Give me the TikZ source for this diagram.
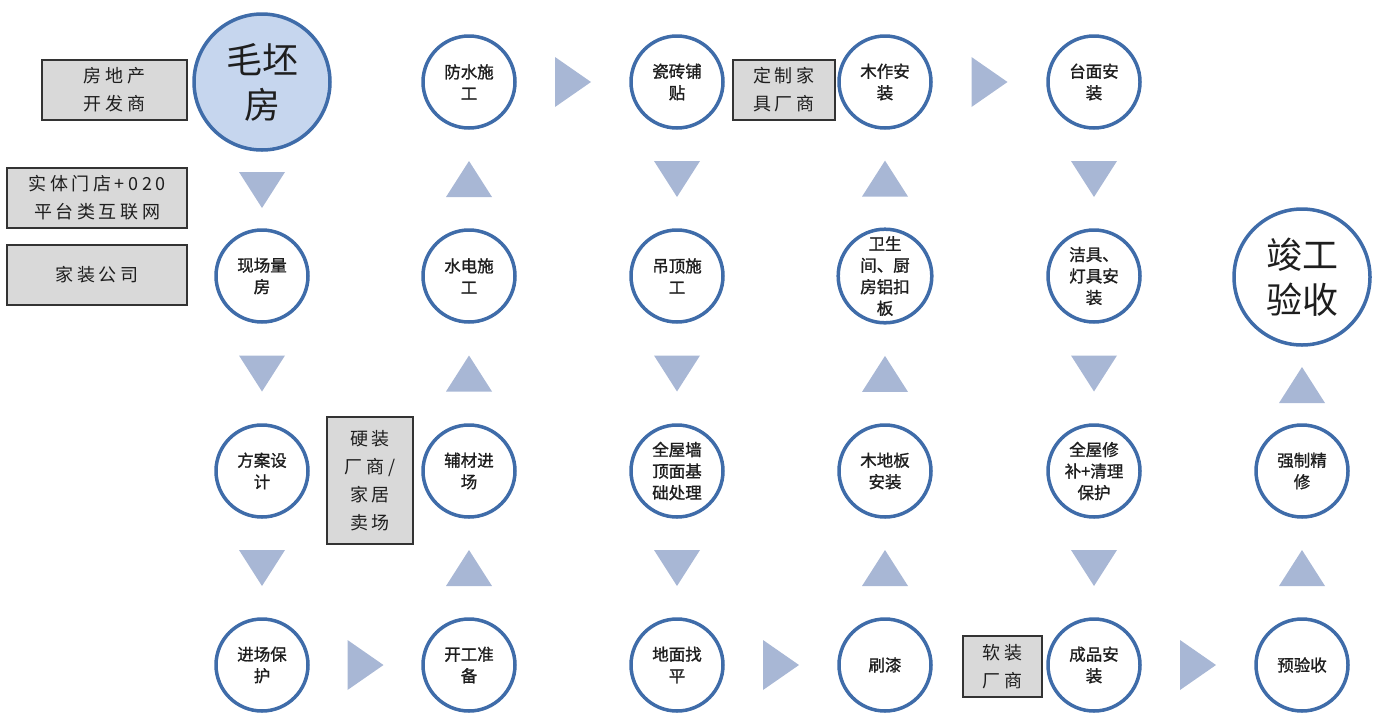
\documentclass[tikz,border=0pt]{standalone}
\usepackage{fontspec}
\setmainfont{Noto Sans CJK SC}
\newfontfamily\boxfont[LetterSpace=20]{Noto Sans CJK SC}
\newfontfamily\circfont[FakeBold=1.2]{Noto Sans CJK SC}
\usetikzlibrary{calc}
\definecolor{ringblue}{HTML}{3F6CA9}
\definecolor{bigfill}{HTML}{C6D6EE}
\definecolor{tricol}{HTML}{A8B7D5}
\definecolor{boxgray}{HTML}{D9D9D9}
\definecolor{txt}{HTML}{1E1E1E}
\tikzset{
  stepc/.style={circle, draw=ringblue, line width=3.5pt, fill=white, minimum size=92pt,
    inner sep=0pt, align=center, text=txt, font=\circfont\fontsize{16.5}{21.5}\selectfont},
  bigc/.style={stepc, minimum size=136pt, font=\fontsize{36}{45}\selectfont},
  grbox/.style={draw=black!80, line width=1.2pt, fill=boxgray, align=center, inner sep=0pt,
    text=txt, font=\boxfont\fontsize{18}{28}\selectfont},
  downtri/.pic={\fill[tricol] (-23,-18) -- (23,-18) -- (0,18) -- cycle;},
  uptri/.pic={\fill[tricol] (-23,18) -- (23,18) -- (0,-18) -- cycle;},
  righttri/.pic={\fill[tricol] (-18,-25) -- (-18,25) -- (18,0) -- cycle;}
}
\begin{document}
\begin{tikzpicture}[x=1pt,y=-1pt]
\useasboundingbox (0,0) rectangle (1381,713);
% column 1
\node[bigc, fill=bigfill] (c11) at (262,82) {毛坯\\房};
\node[stepc] (c12) at (262,276) {现场量\\房};
\node[stepc] (c13) at (262,471) {方案设\\计};
\node[stepc] (c14) at (262,665) {进场保\\护};
% column 2
\node[stepc] (c21) at (469,82) {防水施\\工};
\node[stepc] (c22) at (469,276) {水电施\\工};
\node[stepc] (c23) at (469,471) {辅材进\\场};
\node[stepc] (c24) at (469,665) {开工准\\备};
% column 3
\node[stepc] (c31) at (677,82) {瓷砖铺\\贴};
\node[stepc] (c32) at (677,276) {吊顶施\\工};
\node[stepc] (c33) at (677,471) {全屋墙\\顶面基\\础处理};
\node[stepc] (c34) at (677,665) {地面找\\平};
% column 4
\node[stepc] (c41) at (885,82) {木作安\\装};
\node[stepc] (c42) at (885,276) {卫生\\间、厨\\房铝扣\\板};
\node[stepc] (c43) at (885,471) {木地板\\安装};
\node[stepc] (c44) at (885,665) {刷漆};
% column 5
\node[stepc] (c51) at (1094,82) {台面安\\装};
\node[stepc] (c52) at (1094,276) {洁具、\\灯具安\\装};
\node[stepc] (c53) at (1094,471) {全屋修\\补+清理\\保护};
\node[stepc] (c54) at (1094,665) {成品安\\装};
% column 6
\node[bigc] (c62) at (1302,277) {竣工\\验收};
\node[stepc] (c63) at (1302,471) {强制精\\修};
\node[stepc] (c64) at (1302,665) {预验收};
% gray boxes
\node[grbox, minimum width=145pt, minimum height=60pt] (dev) at (114.5,90) {房地产\\开发商};
\node[grbox, minimum width=180pt, minimum height=60pt] (o2o) at (97,198) {实体门店+020\\平台类互联网};
\node[grbox, minimum width=180pt, minimum height=60pt] (jz) at (97,275) {家装公司};
\node[grbox, minimum width=86pt, minimum height=127pt] (yz) at (370,480.5) {硬装\\厂商/\\家居\\卖场};
\node[grbox, minimum width=102pt, minimum height=60pt] (dz) at (784,90) {定制家\\具厂商};
\node[grbox, minimum width=79pt, minimum height=61pt] (rz) at (1002.5,666.5) {软装\\厂商};
% flow triangles
\pic at ($(c11.south)!0.5!(c12.north)$) {downtri};
\pic at ($(c12.south)!0.5!(c13.north)$) {downtri};
\pic at ($(c13.south)!0.5!(c14.north)$) {downtri};
\pic at ($(c14.east)!0.5!(c24.west)$) {righttri};
\pic at ($(c24.north)!0.5!(c23.south)$) {uptri};
\pic at ($(c23.north)!0.5!(c22.south)$) {uptri};
\pic at ($(c22.north)!0.5!(c21.south)$) {uptri};
\pic at ($(c21.east)!0.5!(c31.west)$) {righttri};
\pic at ($(c31.south)!0.5!(c32.north)$) {downtri};
\pic at ($(c32.south)!0.5!(c33.north)$) {downtri};
\pic at ($(c33.south)!0.5!(c34.north)$) {downtri};
\pic at ($(c34.east)!0.5!(c44.west)$) {righttri};
\pic at ($(c44.north)!0.5!(c43.south)$) {uptri};
\pic at ($(c43.north)!0.5!(c42.south)$) {uptri};
\pic at ($(c42.north)!0.5!(c41.south)$) {uptri};
\pic at ($(c41.east)!0.5!(c51.west)$) {righttri};
\pic at ($(c51.south)!0.5!(c52.north)$) {downtri};
\pic at ($(c52.south)!0.5!(c53.north)$) {downtri};
\pic at ($(c53.south)!0.5!(c54.north)$) {downtri};
\pic at ($(c54.east)!0.5!(c64.west)$) {righttri};
\pic at ($(c64.north)!0.5!(c63.south)$) {uptri};
\pic at ($(c63.north)!0.5!(c62.south)$) {uptri};
\end{tikzpicture}
\end{document}
